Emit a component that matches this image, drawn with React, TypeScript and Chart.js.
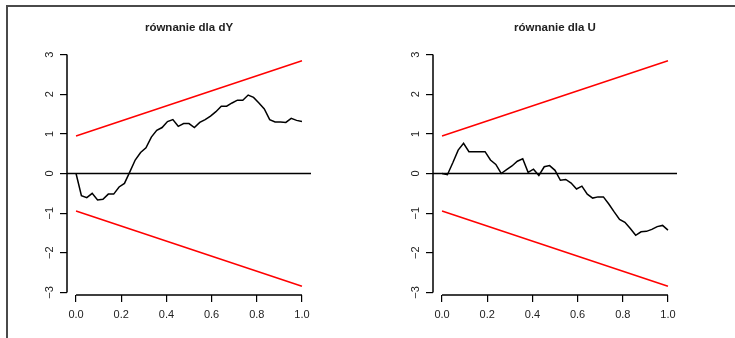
import React, { useEffect, useRef } from "react";
import { Chart, registerables } from "chart.js";

Chart.register(...registerables);

// ---- data ----
const dyValues = [
  0, -0.56, -0.61, -0.5, -0.67, -0.65, -0.52, -0.52, -0.34, -0.25,
  0.04, 0.34, 0.53, 0.65, 0.92, 1.09, 1.16, 1.31, 1.36, 1.19,
  1.26, 1.26, 1.16, 1.29, 1.36, 1.45, 1.56, 1.7, 1.7, 1.78,
  1.85, 1.85, 1.98, 1.92, 1.78, 1.63, 1.36, 1.3, 1.3, 1.29,
  1.39, 1.34, 1.31,
];
const uValues = [
  0, -0.03, 0.27, 0.59, 0.76, 0.55, 0.55, 0.55, 0.55, 0.34,
  0.23, 0, 0.1, 0.19, 0.31, 0.37, 0.03, 0.11, -0.05, 0.17,
  0.2, 0.08, -0.17, -0.15, -0.24, -0.39, -0.32, -0.52, -0.62, -0.59,
  -0.59, -0.77, -0.97, -1.16, -1.23, -1.39, -1.56, -1.47, -1.46, -1.41,
  -1.34, -1.31, -1.43,
];
const boundX = [0, 1];
const upperBound = [0.948, 2.844];
const lowerBound = [-0.948, -2.844];
const zeroLineX = [-0.04, 1.04];
const zeroLineY = [0, 0];
const xTicks = [0, 0.2, 0.4, 0.6, 0.8, 1];
const xTickLabels = ["0.0", "0.2", "0.4", "0.6", "0.8", "1.0"];
const yTicks = [-3, -2, -1, 0, 1, 2, 3];
const yTickLabels = ["\u22123", "\u22122", "\u22121", "0", "1", "2", "3"];
const titles = ["równanie dla dY", "równanie dla U"];

const FONT = "'Liberation Sans', Arial, Helvetica, sans-serif";
const TEXT = "#222";

const axisLinePlugin = {
  id: "rAxisLines",
  afterDraw(chart: any) {
    const { ctx, chartArea } = chart;
    const xs = chart.scales.x;
    const ys = chart.scales.y;
    ctx.save();
    ctx.strokeStyle = "#000";
    ctx.lineWidth = 1.5;
    ctx.beginPath();
    ctx.moveTo(chartArea.left, ys.getPixelForValue(yTicks[0]));
    ctx.lineTo(chartArea.left, ys.getPixelForValue(yTicks[yTicks.length - 1]));
    ctx.moveTo(xs.getPixelForValue(xTicks[0]), chartArea.bottom);
    ctx.lineTo(xs.getPixelForValue(xTicks[xTicks.length - 1]), chartArea.bottom);
    ctx.stroke();
    ctx.restore();
  },
};

function Panel({ title, values, left }: { title: string; values: number[]; left: number }) {
  const ref = useRef<HTMLCanvasElement | null>(null);
  useEffect(() => {
    if (!ref.current) return;
    const n = values.length;
    const series = values.map((v, i) => ({ x: i / (n - 1), y: v }));
    const chart = new Chart(ref.current, {
      type: "line",
      data: {
        datasets: [
          {
            data: zeroLineX.map((x, i) => ({ x, y: zeroLineY[i] })),
            borderColor: "#000",
            borderWidth: 1.5,
            pointRadius: 0,
          },
          {
            data: boundX.map((x, i) => ({ x, y: upperBound[i] })),
            borderColor: "#ff0000",
            borderWidth: 1.5,
            pointRadius: 0,
          },
          {
            data: boundX.map((x, i) => ({ x, y: lowerBound[i] })),
            borderColor: "#ff0000",
            borderWidth: 1.5,
            pointRadius: 0,
          },
          {
            data: series,
            borderColor: "#000",
            borderWidth: 1.5,
            pointRadius: 0,
            tension: 0,
          },
        ],
      },
      options: {
        responsive: false,
        animation: false,
        events: [],
        layout: { padding: { left: 0, right: 56, top: 0, bottom: 0 } },
        plugins: {
          legend: { display: false },
          tooltip: { enabled: false },
          title: {
            display: true,
            text: title,
            fullSize: false,
            color: TEXT,
            font: { family: FONT, size: 11.5, weight: "bold" },
            padding: { top: 21.1, bottom: 17.1 },
          },
        },
        scales: {
          x: {
            type: "linear",
            min: -0.04,
            max: 1.04,
            afterBuildTicks: (s: any) => {
              s.ticks = xTicks.map((v) => ({ value: v }));
            },
            afterFit: (s: any) => {
              s.height = 43;
            },
            grid: { drawOnChartArea: false, drawTicks: true, tickLength: 7, color: "#000", lineWidth: 1.2 },
            border: { display: false },
            ticks: {
              padding: 6,
              color: TEXT,
              font: { family: FONT, size: 11 },
              maxRotation: 0,
              minRotation: 0,
              autoSkip: false,
              callback: (_v: any, i: number) => xTickLabels[i],
            },
          },
          y: {
            type: "linear",
            min: -3.066,
            max: 3.066,
            afterBuildTicks: (s: any) => {
              s.ticks = yTicks.map((v) => ({ value: v }));
            },
            afterFit: (s: any) => {
              s.width = 67;
            },
            grid: { drawOnChartArea: false, drawTicks: true, tickLength: 7, color: "#000", lineWidth: 1.2 },
            border: { display: false },
            ticks: {
              padding: 4,
              color: TEXT,
              font: { family: FONT, size: 11 },
              minRotation: 90,
              maxRotation: 90,
              crossAlign: "center",
              autoSkip: false,
              callback: (_v: any, i: number) => yTickLabels[i],
            },
          },
        },
      } as any,
      plugins: [axisLinePlugin],
    });
    return () => chart.destroy();
  }, [title, values]);
  return (
    <canvas
      ref={ref}
      width={367}
      height={338}
      style={{ position: "absolute", left, top: 0, width: 367, height: 338, display: "block" }}
    />
  );
}

export default function App() {
  return (
    <div style={{ position: "absolute", left: 0, top: 0, width: 735, height: 338, overflow: "hidden", background: "#fff" }}>
      <div
        style={{
          position: "absolute",
          left: 6,
          top: 5,
          width: 740,
          height: 340,
          borderTop: "2px solid #4a4a4a",
          borderLeft: "2px solid #4a4a4a",
          boxSizing: "border-box",
        }}
      />
      <Panel title={titles[0]} values={dyValues} left={0} />
      <Panel title={titles[1]} values={uValues} left={366} />
    </div>
  );
}
